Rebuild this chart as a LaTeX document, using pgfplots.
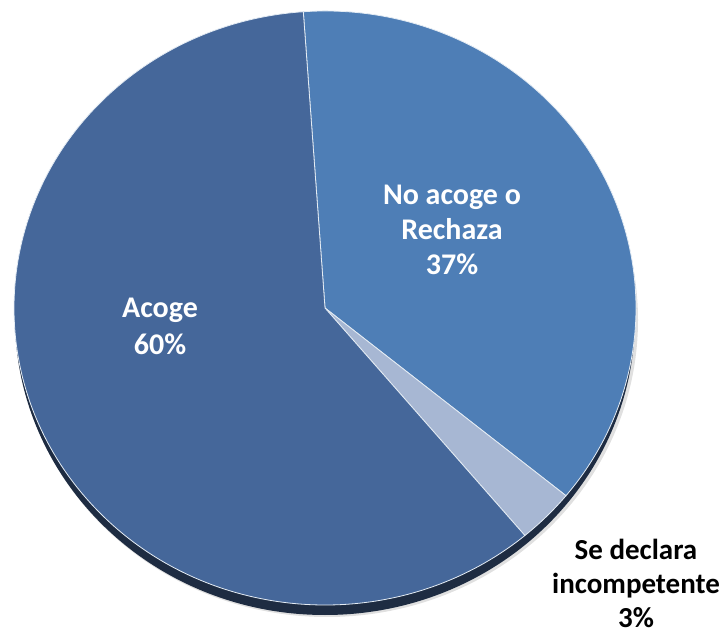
\documentclass[border=0pt]{standalone}
\usepackage{pgfplots}
\usepackage{pgfplotstable}
\pgfplotsset{compat=1.18}
\usepackage{fontspec}
\setmainfont{Carlito}
\definecolor{cAcoge}{HTML}{45679A}
\definecolor{cNo}{HTML}{4E7EB6}
\definecolor{cSe}{HTML}{A7B7D3}
\definecolor{cShadow}{HTML}{1E2C42}
\pgfplotstableread[col sep=comma]{
label,value
No acoge o Rechaza,37
Se declara incompetente,3
Acoge,60
}\piedata
\begin{document}
\begin{tikzpicture}
\begin{axis}[
  width=726pt, height=635pt, scale only axis,
  xmin=0, xmax=726, ymin=0, ymax=635,
  hide axis, clip=false]
\pgfplotstablegetelem{0}{value}\of\piedata \let\vNo\pgfplotsretval
\pgfplotstablegetelem{1}{value}\of\piedata \let\vSe\pgfplotsretval
\pgfplotstablegetelem{2}{value}\of\piedata \let\vAc\pgfplotsretval
\pgfmathsetmacro\aStart{94}
\pgfmathsetmacro\aB{\aStart-3.6*\vNo}
\pgfmathsetmacro\aC{\aB-3.6*\vSe}
\pgfmathsetmacro\aD{\aC-3.6*\vAc}
% soft shadow and thickness
\fill[black!12] (axis cs:327,315) ellipse [x radius=311pt, y radius=297pt];
\fill[cShadow] (axis cs:325,317) ellipse [x radius=310pt, y radius=297pt];
% slices
\filldraw[fill=cNo, draw=white!85!cNo, line width=0.8pt] (axis cs:325,327) -- ++(\aStart:311pt and 297pt)
  arc[start angle=\aStart, end angle=\aB, x radius=311pt, y radius=297pt] -- cycle;
\filldraw[fill=cSe, draw=white!85!cNo, line width=0.8pt] (axis cs:325,327) -- ++(\aB:311pt and 297pt)
  arc[start angle=\aB, end angle=\aC, x radius=311pt, y radius=297pt] -- cycle;
\filldraw[fill=cAcoge, draw=white!85!cNo, line width=0.8pt] (axis cs:325,327) -- ++(\aC:311pt and 297pt)
  arc[start angle=\aC, end angle=\aD, x radius=311pt, y radius=297pt] -- cycle;
% labels
\node[align=center, text=white, font=\bfseries\fontsize{30}{35}\selectfont] at (axis cs:452,405)
  {No acoge o\\Rechaza\\\vNo\%};
\node[align=center, text=white, font=\bfseries\fontsize{30}{37}\selectfont] at (axis cs:160,309)
  {Acoge\\\vAc\%};
\node[align=center, text=black, font=\bfseries\fontsize{29}{34}\selectfont] at (axis cs:636,52)
  {Se declara\\incompetente\\\vSe\%};
\end{axis}
\pgfresetboundingbox
\path (current axis.south west) rectangle (current axis.north east);
\end{tikzpicture}
\end{document}
